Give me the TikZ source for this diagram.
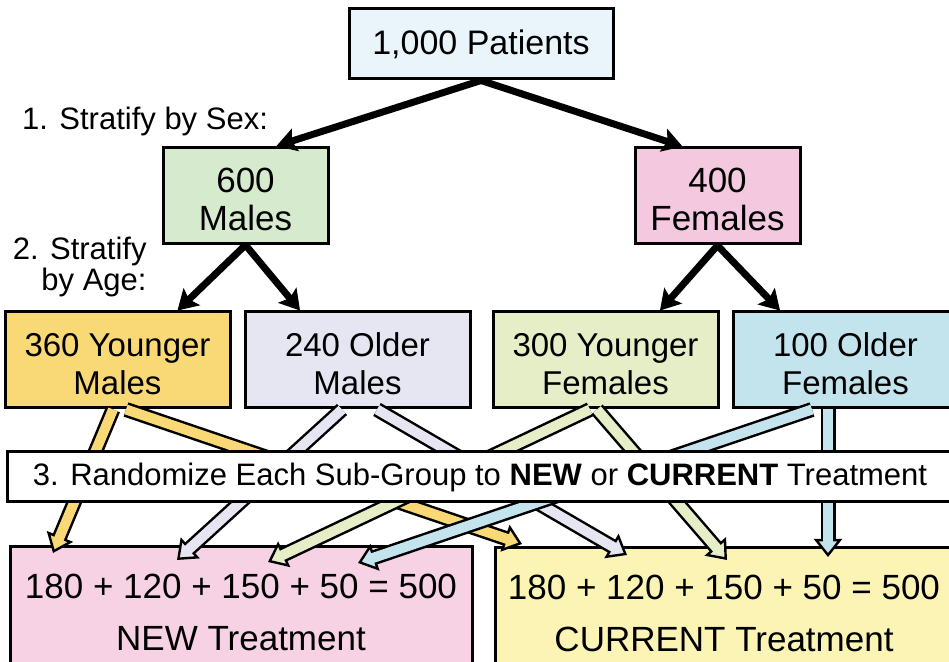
\documentclass[tikz,border=0pt]{standalone}
\usepackage{fontspec}
\setmainfont{Liberation Sans}
\usetikzlibrary{arrows.meta, calc}

\definecolor{patfill}{HTML}{E9F5FB}
\definecolor{malefill}{HTML}{D6EBCD}
\definecolor{femfill}{HTML}{F4C8DE}
\definecolor{ymfill}{HTML}{F9D976}
\definecolor{omfill}{HTML}{E6E6F3}
\definecolor{yffill}{HTML}{E6EEC7}
\definecolor{offill}{HTML}{C3E4EC}
\definecolor{newfill}{HTML}{F6D2E4}
\definecolor{curfill}{HTML}{FBF4B4}

\tikzset{
  box/.style={draw, line width=1.5pt, align=center, inner sep=0pt},
  sexbox/.style={minimum width=82.5pt, minimum height=48pt, text height=35pt, text depth=0pt, font=\fontsize{17.5}{19}\selectfont},
  agebox/.style={minimum width=112.5pt, minimum height=48pt, text height=35pt, text depth=0pt, font=\fontsize{16.5}{19}\selectfont},
  trtbox/.style={minimum width=231pt, minimum height=65pt, font=\fontsize{17.5}{26}\selectfont},
  lbl/.style={inner sep=0pt, font=\fontsize{15.5}{12.5}\selectfont},
  sexarrow/.style={line width=3.5pt, -{Stealth[length=10pt, width=12pt, inset=2pt, line width=0.5pt]}},
  grparrow/.style={draw=#1, line width=5pt, shorten >=6.5pt,
    preaction={draw=black, line width=7.5pt, shorten >=0pt,
      -{Triangle[length=9pt, width=14pt, line width=1.2pt, fill=#1]}}}
}

\begin{document}
\begin{tikzpicture}[x=0.5pt, y=-0.5pt]
  \useasboundingbox (0,0) rectangle (949,662);
  % whole group
  \node[box, fill=patfill, minimum width=132pt, minimum height=35pt, font=\fontsize{17}{19}\selectfont] (pat) at (481,44) {1,000 Patients};
  \node[lbl] (lblsex) at (145,121) {1. Stratify by Sex:};
  % by sex
  \node[box, sexbox, fill=malefill] (males) at (245.5,195.5) {600\\Males};
  \node[box, sexbox, fill=femfill] (females) at (717.5,196) {400\\Females};
  \node[lbl, align=right, anchor=east] (lblage) at (147,267) {2. Stratify\\by Age:};
  % by age
  \node[box, agebox, fill=ymfill] (ym) at (117.5,360) {360 Younger\\Males};
  \node[box, agebox, fill=omfill] (om) at (357.5,360) {240 Older\\Males};
  \node[box, agebox, fill=yffill] (yf) at (605.5,360) {300 Younger\\Females};
  \node[box, agebox, fill=offill] (of) at (845.5,360) {100 Older\\Females};
  % treatments
  \node[box, trtbox, fill=newfill] (new) at (241,612) {180 + 120 + 150 + 50 = 500\\NEW Treatment};
  \node[box, trtbox, fill=curfill, minimum width=229pt] (cur) at (724,613) {180 + 120 + 150 + 50 = 500\\CURRENT Treatment};
  % stratification arrows
  \draw[sexarrow] (pat.south) -- ($(males.north)+(31,0)$);
  \draw[sexarrow] (pat.south) -- ($(females.north)+(-35,0)$);
  \draw[sexarrow] (males.south) -- ($(ym.north)+(60,0)$);
  \draw[sexarrow] (males.south) -- ($(om.north)+(-57.5,0)$);
  \draw[sexarrow] (females.south) -- ($(yf.north)+(54.5,0)$);
  \draw[sexarrow] (females.south) -- ($(of.north)+(-65.5,0)$);
  % randomisation arrows
  \draw[grparrow=ymfill] ($(ym.south)+(-4.5,0)$) -- ($(new.north west)+(44.5,7.5)$);
  \draw[grparrow=ymfill] ($(ym.south)+(8.5,0)$) -- ($(cur.north west)+(28.5,-2.5)$);
  \draw[grparrow=omfill] ($(om.south)+(-15.5,0)$) -- ($(new.north west)+(168.5,14.5)$);
  \draw[grparrow=omfill] ($(om.south)+(19.5,0)$) -- ($(cur.north west)+(133.5,8.5)$);
  \draw[grparrow=yffill] ($(yf.south)+(-15.5,0)$) -- ($(new.north west)+(259.5,16.5)$);
  \draw[grparrow=yffill] ($(yf.south)+(-8.5,0)$) -- ($(cur.north west)+(233.5,13.5)$);
  \draw[grparrow=offill] ($(of.south)+(-33.5,0)$) -- ($(new.north west)+(349.5,17.5)$);
  \draw[grparrow=offill] ($(of.south)+(-17.5,0)$) -- ($(cur.north west)+(334.5,10.5)$);
  % banner over the arrows
  \node[box, fill=white, minimum width=473pt, minimum height=25pt, font=\fontsize{15.5}{17}\selectfont] (rand) at (480,477)
    {3. Randomize Each Sub-Group to \textbf{NEW} or \textbf{CURRENT} Treatment};
\end{tikzpicture}
\end{document}
